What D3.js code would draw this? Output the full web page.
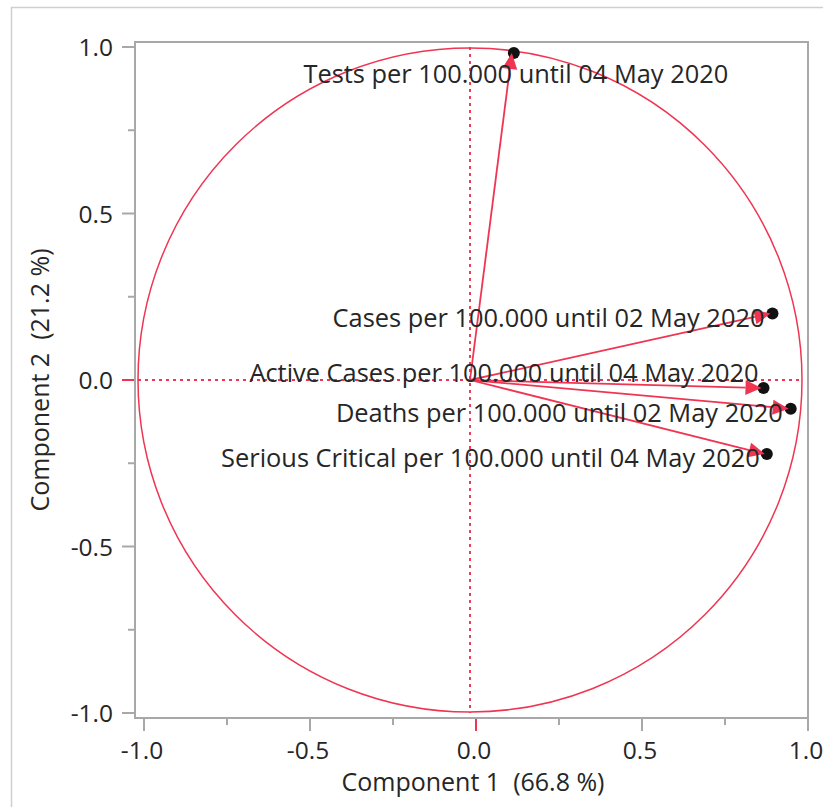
<!DOCTYPE html>
<html>
<head>
<meta charset="utf-8">
<script src="https://cdn.jsdelivr.net/npm/d3@7"></script>
<style>
  html, body { margin: 0; padding: 0; background: #fff; }
  svg { display: block; }
  text { font-family: "Open Sans", "Noto Sans", sans-serif; fill: #262626; white-space: pre; }
</style>
</head>
<body>
<svg id="chart" width="823" height="807"></svg>
<script>
// ---- data ----
const variables = [
  "Tests per 100.000 until 04 May 2020",
  "Cases per 100.000 until 02 May 2020",
  "Active Cases per 100.000 until 04 May 2020",
  "Deaths per 100.000 until 02 May 2020",
  "Serious Critical per 100.000 until 04 May 2020"
];
const loading1 = [0.126, 0.905, 0.878, 0.960, 0.888];
const loading2 = [0.982, 0.200, -0.024, -0.086, -0.222];
const majorTicks = [-1.0, -0.5, 0.0, 0.5, 1.0];
const minorTicks = [-0.75, -0.25, 0.25, 0.75];
const xTitle = "Component 1  (66.8 %)";
const yTitle = "Component 2  (21.2 %)";

// ---- layout ----
const W = 823, H = 807;
const frame = { left: 135, top: 42, right: 808, bottom: 718 };
const red = "#ef3552";
const svg = d3.select("#chart");

// outer panel border
svg.append("path")
  .attr("d", `M11.5,${H} L11.5,7.5 L${W},7.5`)
  .attr("fill", "none").attr("stroke", "#cfcfcf").attr("stroke-width", 1.5);

const x = d3.scaleLinear().domain([-1, 1]).range([144, 808]);
const y = d3.scaleLinear().domain([-1, 1]).range([713, 47]);

const locale = d3.formatLocale({ decimal: ".", thousands: ",", grouping: [3], currency: ["", ""], minus: "-" });
const fmt = locale.format(".1f");

// axes
const xAxis = svg.append("g").attr("transform", `translate(0,${frame.bottom})`);
xAxis.selectAll("line.major").data(majorTicks).join("line")
  .attr("x1", d => x(d)).attr("x2", d => x(d)).attr("y1", 0).attr("y2", 13)
  .attr("stroke", d => d === 0 ? red : "#a8a8a8").attr("stroke-width", 2);
xAxis.selectAll("line.minor").data(minorTicks).join("line")
  .attr("x1", d => x(d)).attr("x2", d => x(d)).attr("y1", 0).attr("y2", 7)
  .attr("stroke", "#a8a8a8").attr("stroke-width", 2);
xAxis.selectAll("text").data(majorTicks).join("text")
  .attr("x", d => x(d) - 2).attr("y", 41)
  .attr("text-anchor", "middle").attr("font-size", 24.5)
  .text(d => fmt(d));

const yAxis = svg.append("g").attr("transform", `translate(${frame.left},0)`);
yAxis.selectAll("line.major").data(majorTicks).join("line")
  .attr("y1", d => y(d)).attr("y2", d => y(d)).attr("x1", 0).attr("x2", -13)
  .attr("stroke", d => d === 0 ? red : "#a8a8a8").attr("stroke-width", 2);
yAxis.selectAll("line.minor").data(minorTicks).join("line")
  .attr("y1", d => y(d)).attr("y2", d => y(d)).attr("x1", 0).attr("x2", -7)
  .attr("stroke", "#a8a8a8").attr("stroke-width", 2);
yAxis.selectAll("text").data(majorTicks).join("text")
  .attr("x", -22).attr("y", d => y(d)).attr("dy", "0.38em")
  .attr("text-anchor", "end").attr("font-size", 24.5)
  .text(d => fmt(d));

// axis titles
svg.append("text").attr("x", 473).attr("y", 791).attr("text-anchor", "middle")
  .attr("font-size", 25).text(xTitle);
svg.append("text").attr("transform", `translate(49,380) rotate(-90)`)
  .attr("text-anchor", "middle").attr("font-size", 25).text(yTitle);

// frame
svg.append("rect")
  .attr("x", frame.left).attr("y", frame.top)
  .attr("width", frame.right - frame.left).attr("height", frame.bottom - frame.top)
  .attr("fill", "none").attr("stroke", "#a8a8a8").attr("stroke-width", 2);

// plot marks (JMP draws the circle slightly left of the tick grid)
const marks = svg.append("g").attr("transform", "translate(-6,0)");
const cx = x(0), cy = y(0), r = x(1) - x(0);

marks.append("line")
  .attr("x1", x(-1)).attr("x2", x(1)).attr("y1", cy).attr("y2", cy)
  .attr("stroke", red).attr("stroke-width", 1.9).attr("stroke-dasharray", "3,4");
marks.append("line")
  .attr("x1", cx).attr("x2", cx).attr("y1", y(1)).attr("y2", y(-1))
  .attr("stroke", red).attr("stroke-width", 1.9).attr("stroke-dasharray", "3,4");

marks.append("circle")
  .attr("cx", cx).attr("cy", cy).attr("r", r)
  .attr("fill", "none").attr("stroke", red).attr("stroke-width", 1.5);

const pts = variables.map((v, i) => ({ name: v, a: loading1[i], b: loading2[i] }));

// black points at loading tips
marks.selectAll("circle.pt").data(pts).join("circle")
  .attr("class", "pt")
  .attr("cx", d => x(d.a) + 2).attr("cy", d => y(d.b))
  .attr("r", 6).attr("fill", "#111");

// arrows
const headLen = 16, headW = 7.5;
pts.forEach(d => {
  const x1 = x(d.a), y1 = y(d.b);
  const ang = Math.atan2(y1 - cy, x1 - cx);
  const bx = x1 - headLen * Math.cos(ang), by = y1 - headLen * Math.sin(ang);
  marks.append("line")
    .attr("x1", cx).attr("y1", cy).attr("x2", bx).attr("y2", by)
    .attr("stroke", red).attr("stroke-width", 1.8);
  const px = -Math.sin(ang), py = Math.cos(ang);
  marks.append("path")
    .attr("d", `M${x1},${y1} L${bx + headW * px},${by + headW * py} L${bx - headW * px},${by - headW * py} Z`)
    .attr("fill", red);
});

// labels (offsets chosen by JMP's label placement)
const labelPlace = [
  { anchor: "middle", dx: 4, dy: 21 },
  { anchor: "end", dx: -6, dy: 5 },
  { anchor: "end", dx: -3, dy: -15 },
  { anchor: "end", dx: -6, dy: 4 },
  { anchor: "end", dx: -5, dy: 4 }
];
marks.selectAll("text.lbl").data(pts).join("text")
  .attr("class", "lbl")
  .attr("x", (d, i) => x(d.a) + labelPlace[i].dx)
  .attr("y", (d, i) => y(d.b) + labelPlace[i].dy)
  .attr("dy", "0.35em")
  .attr("text-anchor", (d, i) => labelPlace[i].anchor)
  .attr("font-size", 25.4)
  .text(d => d.name);
</script>
</body>
</html>
